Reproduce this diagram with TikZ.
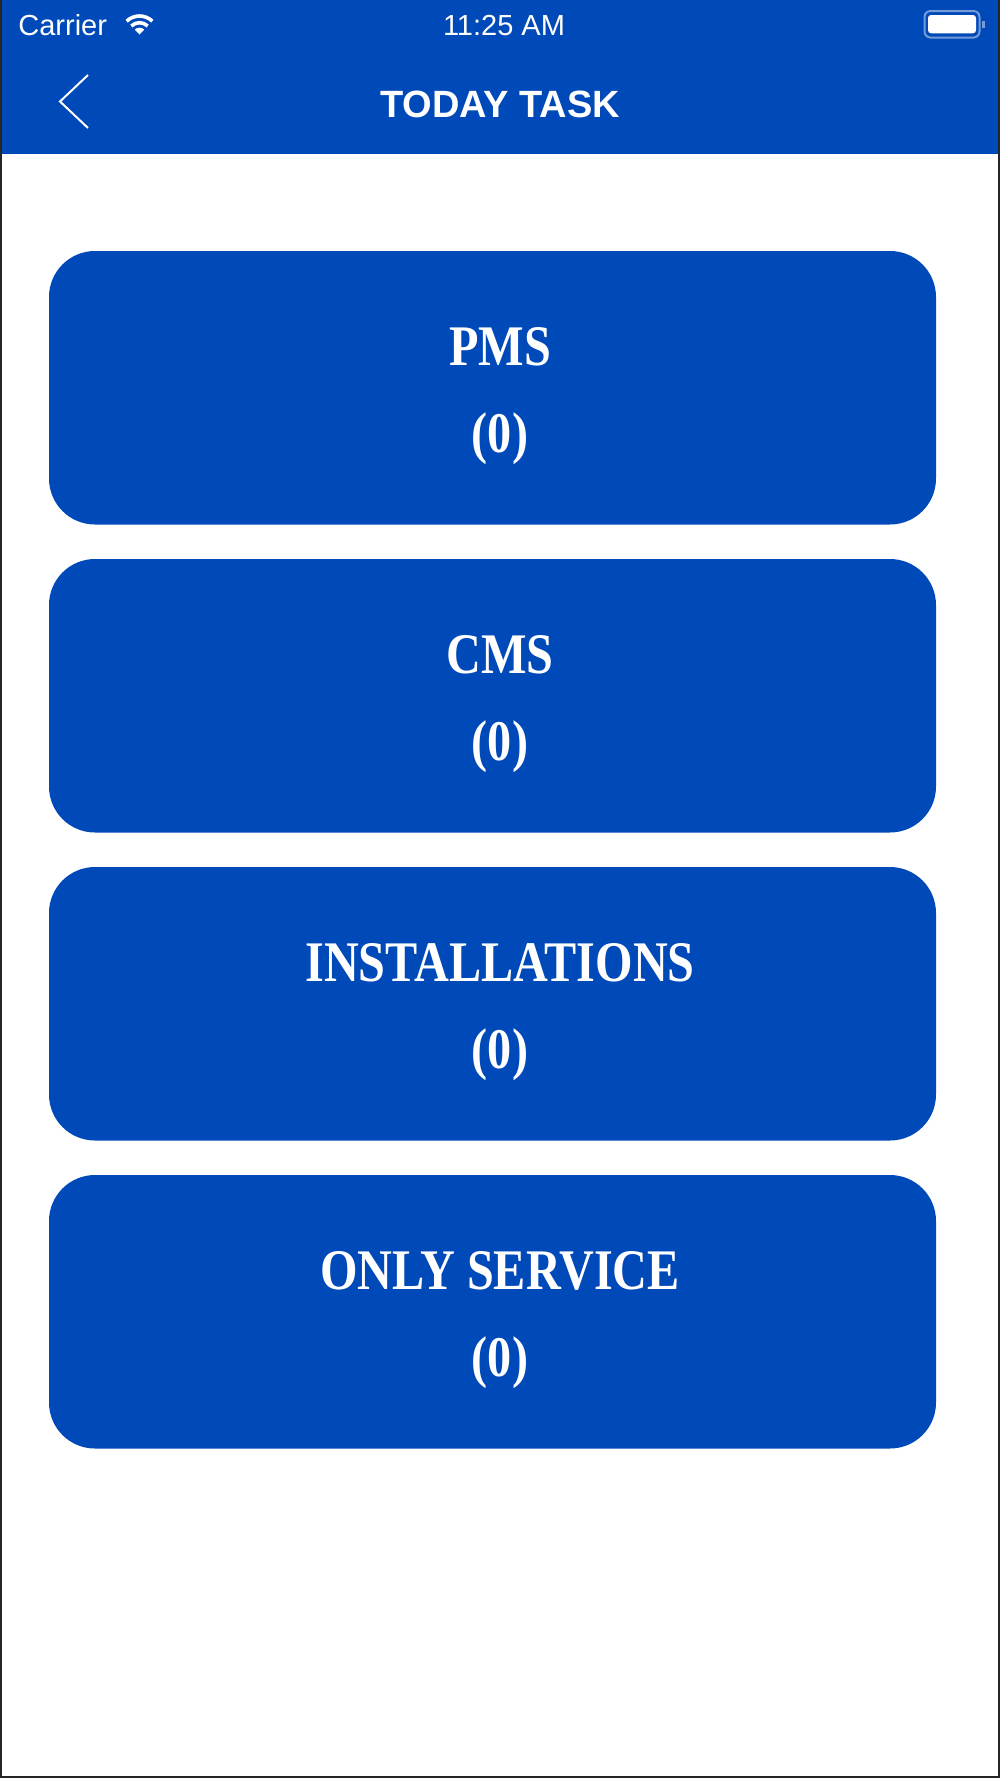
\documentclass[tikz,border=0pt]{standalone}
\usepackage{fontspec}
\setmainfont{Liberation Sans}
\newfontfamily\cardfont[FakeStretch=0.84]{Liberation Serif}
\usepackage{tikz}
\usetikzlibrary{calc}
\definecolor{appblue}{RGB}{0,73,184}
\tikzstyle{card} = [rectangle, rounded corners=23pt, minimum width=443.5pt, minimum height=136.75pt, fill=appblue, inner sep=0pt]
\tikzstyle{cardtitle} = [anchor=base, inner sep=0pt, text=white, font=\cardfont\bfseries\fontsize{28.7}{30}\selectfont]
\tikzstyle{cardcount} = [cardtitle]
\tikzstyle{bartext} = [anchor=base, inner sep=0pt, text=white, font=\fontsize{14.5}{16}\selectfont]
\tikzstyle{navtitle} = [anchor=base, inner sep=0pt, text=white, font=\bfseries\fontsize{19}{21}\selectfont]
\tikzstyle{icon} = [white, line width=1.8pt]

\begin{document}
\begin{tikzpicture}[x=0.5pt, y=-0.5pt]
\useasboundingbox (0,0) rectangle (1000,1778);
\fill[white] (0,0) rectangle (1000,1778);

% header and status bar
\fill[appblue] (0,0) rectangle (1000,154);
\node (carrier) [bartext, anchor=base west] at (18,35) {Carrier};
\node (clock) [bartext] at (504,35) {11:25 AM};
\coordinate (wifi) at (139.5,34.5);
\draw [icon] (wifi) ++(226:18.5) arc[start angle=226, end angle=314, radius=18.5];
\draw [icon] (wifi) ++(226:11.8) arc[start angle=226, end angle=314, radius=11.8];
\fill [white] (wifi) -- ++(226:6.8) arc[start angle=226, end angle=314, radius=6.8] -- cycle;
\draw [white, opacity=0.45, line width=1pt, rounded corners=3pt] (924.5,11) rectangle (979.5,37.5);
\fill [white, rounded corners=1.5pt] (928,15) rectangle (976,33.3);
\fill [white, opacity=0.45] (981.5,21) rectangle (985,28);
\draw [white, line width=1pt] (88,75) -- (60,101.5) -- (88,128);
\node (title) [navtitle] at (500,117) {TODAY TASK};

% task cards
\node (pms) [card] at (492.5,387.75) {};
\node (pmstitle) [cardtitle] at (500,365.75) {PMS};
\node (pmscount) [cardcount] at (500,452.75) {(0)};
\node (cms) [card] at (492.5,695.75) {};
\node (cmstitle) [cardtitle] at (500,673.75) {CMS};
\node (cmscount) [cardcount] at (500,760.75) {(0)};
\node (inst) [card] at (492.5,1003.75) {};
\node (insttitle) [cardtitle] at (500,981.75) {INSTALLATIONS};
\node (instcount) [cardcount] at (500,1068.75) {(0)};
\node (serv) [card] at (492.5,1311.75) {};
\node (servtitle) [cardtitle] at (500,1289.75) {ONLY SERVICE};
\node (servcount) [cardcount] at (500,1376.75) {(0)};

%\draw (0,0) rectangle (1000,1778);
\draw [black!85, line width=1.2pt] (1,0) -- (1,1777) -- (999,1777) -- (999,0);
\end{tikzpicture}
\end{document}
